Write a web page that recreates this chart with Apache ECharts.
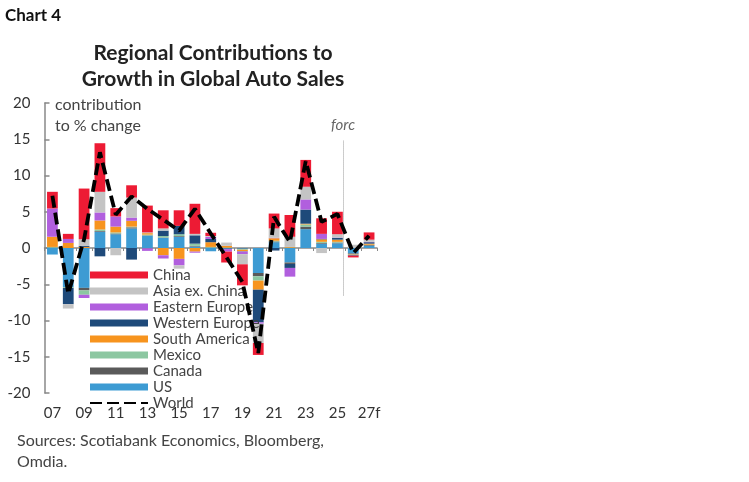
<!DOCTYPE html>
<html>
<head>
<meta charset="utf-8">
<script src="https://cdn.jsdelivr.net/npm/echarts@6/dist/echarts.min.js"></script>
<style>
  html, body { margin: 0; padding: 0; background: #fff; }
  #chart { width: 749px; height: 482px; }
</style>
</head>
<body>
<div id="chart"></div>
<script>
  // years 2007 - 2027 (27 is forecast)
  var years = ["07", "08", "09", "10", "11", "12", "13", "14", "15", "16", "17",
    "18", "19", "20", "21", "22", "23", "24", "25", "26", "27f"];

  // contributions to % change, by region
  var us = [-0.9, -5.4, -5.5, 2.25, 1.9, 2.7, 1.7, 1.4, 1.55, 0.2, -0.45,
    -0.1, -0.1, -3.45, 0.8, -2.0, 2.6, 0.6, 0.65, -0.75, 0.3];
  var canada = [0.05, 0, -0.35, 0.1, 0.1, 0.15, 0.05, 0.05, 0.1, 0.1, 0.05,
    0, -0.05, -0.45, 0.1, -0.2, 0.35, 0.1, 0.1, -0.1, 0.1];
  var mexico = [0.1, -0.1, -0.6, 0.2, 0.15, 0.1, 0.1, 0.2, 0.25, 0.3, 0.1,
    0.05, -0.1, -0.6, 0.1, 0.05, 0.3, 0.15, 0.1, -0.05, 0.05];
  var southAmerica = [1.4, 0.7, 0.15, 1.25, 0.8, 0.8, 0.2, -1.0, -1.5, -0.5, 0.65,
    0.25, -0.2, -1.25, 0.35, 0.1, 0.1, 0.35, 0.3, -0.05, 0.15];
  var westernEurope = [0, -2.25, 0.15, -1.15, 0, -1.6, -0.05, 0.75, 1.15, 1.15, 0.45,
    -0.05, -0.05, -4.5, -0.35, -0.55, 1.95, 0.05, 0.25, -0.1, 0.2];
  var easternEurope = [3.9, 0.55, -0.45, 1.1, 1.4, 0.45, -0.35, -0.45, -0.9, -0.15, 0.3,
    -0.35, -0.35, -0.2, 0.05, -1.2, 1.4, 0.7, 0.05, 0, 0.05];
  var asiaExChina = [0, -0.6, 0.9, 2.85, -1.0, 2.75, 0.1, 0.3, -0.45, 0.2, 0.1,
    0.45, -1.4, -2.65, 1.3, 1.4, 1.75, -0.7, 0.45, 0.45, 0.3];
  var china = [2.3, 0.7, 7.0, 6.7, 1.15, 1.7, 3.7, 2.5, 2.15, 4.15, 0.45,
    -1.5, -2.9, -1.65, 2.05, 3.0, 3.7, 2.15, 3.1, -0.25, 1.0];
  var world = [7.2, -6.3, 1.2, 13.2, 4.6, 7.1, 5.4, 3.9, 2.4, 5.4, 2.0,
    -1.3, -4.7, -14.5, 4.3, 0.8, 12.0, 3.6, 4.7, -0.7, 1.7];

  var yTicks = { min: -20, max: 20, step: 5 };
  var forecastStart = 18.35; // just before 26

  var font = "Lato";
  var myChart = echarts.init(document.getElementById("chart"));

  // bottom of the stack first
  var regions = [
    { name: "US", data: us, color: "#3d9bd3" },
    { name: "Canada", data: canada, color: "#5a5a5a" },
    { name: "Mexico", data: mexico, color: "#8cc7a1" },
    { name: "South America", data: southAmerica, color: "#f7941e" },
    { name: "Western Europe", data: westernEurope, color: "#1e4a7a" },
    { name: "Eastern Europe", data: easternEurope, color: "#b15fde" },
    { name: "Asia ex. China", data: asiaExChina, color: "#c4c4c4" },
    { name: "China", data: china, color: "#ed1b34" }
  ];

  var series = regions.map(function (r) {
    return {
      name: r.name,
      type: "bar",
      stack: "total",
      barCategoryGap: "32%",
      itemStyle: { color: r.color },
      data: r.data
    };
  });

  series.push({
    name: "World",
    type: "line",
    symbol: "none",
    z: 5,
    lineStyle: { color: "#000", width: 3.8, type: [12, 5] },
    itemStyle: { color: "#000" },
    data: world
  });

  // forecast divider, placed through a hidden value axis
  series.push({
    type: "line",
    xAxisIndex: 2,
    data: [],
    silent: true,
    markLine: {
      silent: true,
      symbol: "none",
      lineStyle: { color: "#999", width: 1, type: "dotted" },
      label: {
        show: true,
        position: "end",
        formatter: "forc",
        fontFamily: font,
        fontStyle: "italic",
        fontSize: 15,
        color: "#666",
        distance: 8
      },
      data: [[{ coord: [forecastStart, -6.55] }, { coord: [forecastStart, 14.8] }]]
    }
  });

  var legendData = regions.slice().reverse().map(function (r) {
    return { name: r.name, icon: "rect" };
  });
  legendData.push({ name: "World", itemStyle: { color: "rgba(0,0,0,0)", borderWidth: 0 } });

  var option = {
    animation: false,
    grid: { left: 44.5, right: 372, top: 103, bottom: 89 },
    legend: {
      orient: "vertical",
      left: 89,
      top: 267,
      padding: 0,
      itemWidth: 58,
      itemHeight: 7,
      itemGap: 0,
      selectedMode: false,
      textStyle: { fontFamily: font, fontSize: 15, color: "#444", lineHeight: 16 },
      data: legendData
    },
    xAxis: [
      {
        type: "category",
        data: years,
        position: "bottom",
        axisLine: { onZero: true, lineStyle: { color: "#888", width: 1.5 } },
        axisTick: { show: true, interval: 0, length: 3, lineStyle: { color: "#888" } },
        axisLabel: { show: false }
      },
      {
        type: "category",
        data: years,
        position: "bottom",
        axisLine: { show: false, onZero: false },
        axisTick: { show: false },
        axisLabel: {
          interval: 1,
          margin: 13,
          fontFamily: font,
          fontSize: 15,
          color: "#333"
        }
      },
      { type: "value", min: -0.5, max: 20.5, show: false }
    ],
    yAxis: {
      type: "value",
      min: yTicks.min,
      max: yTicks.max,
      interval: yTicks.step,
      axisLine: { show: true, onZero: false, lineStyle: { color: "#888", width: 1.5 } },
      axisTick: { show: true, inside: true, length: 5, lineStyle: { color: "#888", width: 1.5 } },
      splitLine: { show: false },
      axisLabel: { margin: 14, fontFamily: font, fontSize: 15, color: "#333" }
    },
    graphic: [
      {
        type: "text", left: 5, top: 7,
        style: { text: "Chart 4", font: "bold 17px " + font, fill: "#111" }
      },
      {
        type: "text", x: 213, y: 40,
        style: {
          text: "Regional Contributions to\nGrowth in Global Auto Sales",
          font: "bold 21px " + font, fill: "#222",
          align: "center", lineHeight: 26
        }
      },
      {
        type: "text", x: 55, y: 94,
        style: {
          text: "contribution\nto % change",
          font: "16px " + font, fill: "#444", lineHeight: 21
        }
      },
      {
        type: "text", x: 17, y: 430,
        style: {
          text: "Sources: Scotiabank Economics, Bloomberg,\nOmdia.",
          font: "16px " + font, fill: "#444", lineHeight: 21
        }
      }
    ],
    series: series
  };

  myChart.setOption(option);
  window.onresize = function () {
    myChart.resize();
  };
</script>
</body>
</html>
